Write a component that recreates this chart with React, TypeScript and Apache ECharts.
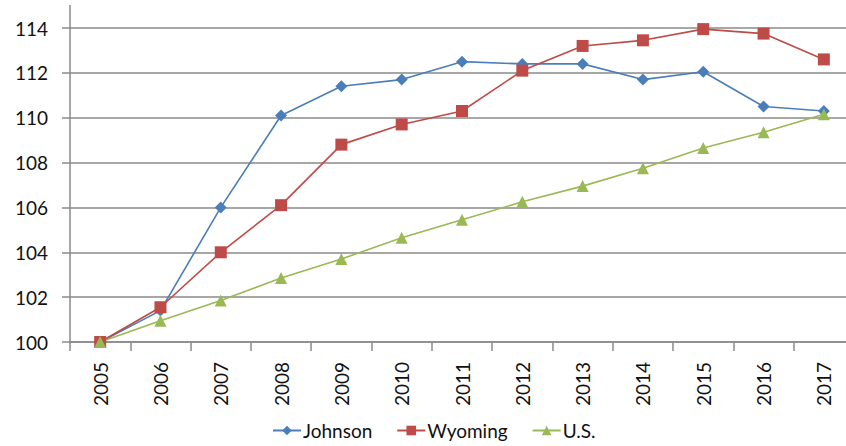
import React, { useEffect, useRef } from "react";
import * as echarts from "echarts";

const years = ["2005","2006","2007","2008","2009","2010","2011","2012","2013","2014","2015","2016","2017"];
const johnson = [100, 101.4, 106.0, 110.1, 111.4, 111.7, 112.5, 112.4, 112.4, 111.7, 112.05, 110.5, 110.3];
const wyoming = [100, 101.55, 104.0, 106.1, 108.8, 109.7, 110.3, 112.1, 113.2, 113.45, 113.95, 113.75, 112.6];
const us = [100, 100.95, 101.85, 102.85, 103.7, 104.65, 105.45, 106.25, 106.95, 107.75, 108.65, 109.35, 110.15];
const yTicks = { min: 100, max: 114, interval: 2 };

const FONT = "Lato";
const GRID = "#8a8a8a";

export default function App() {
  const ref = useRef<HTMLDivElement>(null);
  useEffect(() => {
    if (!ref.current) return;
    const chart = echarts.init(ref.current, null, { renderer: "svg" });
    const mk = (name: string, data: number[], color: string, symbol: string, size: number) => ({
      name,
      type: "line",
      data,
      symbol,
      symbolSize: size,
      lineStyle: { color, width: 1.6 },
      itemStyle: { color },
      z: 3,
    });
    chart.setOption({
      animation: false,
      textStyle: { fontFamily: FONT },
      grid: { left: 70, right: 0, top: 28, bottom: 104, containLabel: false },
      xAxis: {
        type: "category",
        data: years,
        boundaryGap: true,
        axisLine: { lineStyle: { color: GRID, width: 1.5 } },
        axisTick: { show: true, length: 9, alignWithLabel: false, lineStyle: { color: GRID, width: 1.5 } },
        axisLabel: { rotate: 90, margin: 20, color: "#111", fontSize: 19, fontFamily: FONT },
      },
      yAxis: {
        type: "value",
        min: yTicks.min,
        max: yTicks.max,
        interval: yTicks.interval,
        axisLine: { show: true, lineStyle: { color: GRID, width: 1.5 } },
        axisTick: { show: true, length: 8, lineStyle: { color: GRID, width: 1.5 } },
        axisLabel: { margin: 22, color: "#111", fontSize: 19, fontFamily: FONT },
        splitLine: { show: true, lineStyle: { color: GRID, width: 1.5 } },
      },
      legend: {
        left: 272,
        top: 421,
        padding: 0,
        itemWidth: 28,
        itemHeight: 12,
        itemGap: 24,
        textStyle: { fontSize: 19, color: "#111", fontFamily: FONT, padding: [0, 0, 0, -3] },
        data: ["Johnson", "Wyoming", "U.S."],
      },
      graphic: [
        { type: "line", shape: { x1: 70, y1: 5, x2: 70, y2: 28 }, style: { stroke: GRID, lineWidth: 1.5 } },
      ],
      series: [
        mk("Johnson", johnson, "#4a7ebb", "diamond", 12),
        mk("Wyoming", wyoming, "#be4b48", "rect", 12),
        mk("U.S.", us, "#98b954", "triangle", 12),
      ],
    });
    return () => chart.dispose();
  }, []);
  return (
    <div style={{ position: "absolute", left: 0, top: 0, width: 846, height: 446, overflow: "hidden" }}>
      <div ref={ref} style={{ width: 854, height: 446 }} />
    </div>
  );
}
